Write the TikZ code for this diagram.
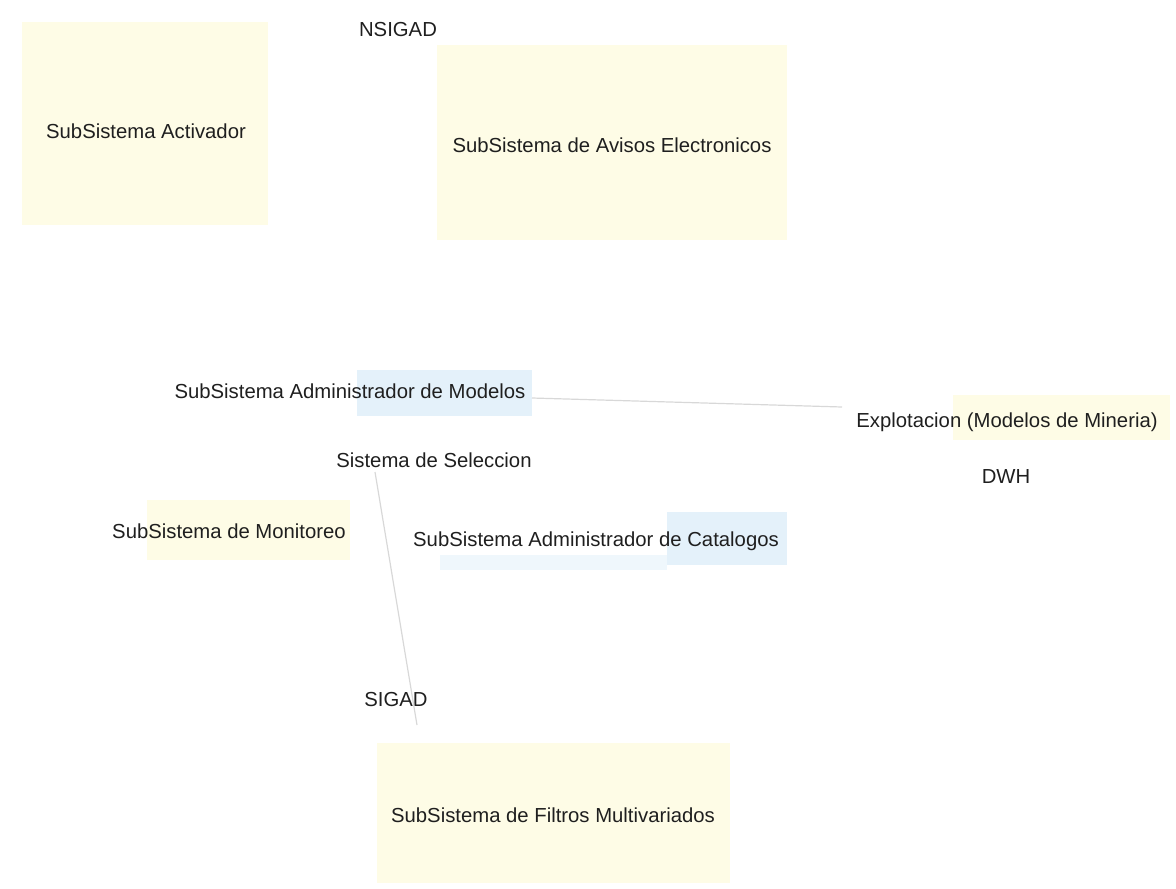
\documentclass[tikz,border=0pt]{standalone}
\usepackage{fontspec}
\setmainfont{Liberation Sans}
\usepackage{tikz}
\usetikzlibrary{positioning}
\usepackage{xcolor}
\definecolor{paleyellow}{HTML}{FEFCE6}
\definecolor{paleblue}{HTML}{E4F1FA}
\definecolor{fadeline}{HTML}{D8D8D8}

\begin{document}
\begin{tikzpicture}[x=1pt,y=-1pt,
	lbl/.style={inner sep=1pt,font=\fontsize{20.3}{23}\selectfont,text=black!88},
	ypatch/.style={fill=paleyellow},
	bpatch/.style={fill=paleblue},
	faint/.style={draw=fadeline,line width=1.2pt}]
		\useasboundingbox (0,0) rectangle (1176,889);
		% pale background patches
		\fill[ypatch] (22,22) rectangle (268,225);
		\fill[ypatch] (437,45) rectangle (787,240);
		\fill[bpatch] (357,370) rectangle (532,416);
		\fill[ypatch] (953,395) rectangle (1170,440);
		\fill[ypatch] (147,500) rectangle (350,560);
		\fill[bpatch] (667,512) rectangle (787,565);
		\fill[paleblue!60] (440,555) rectangle (667,570);
		\fill[ypatch] (377,743) rectangle (730,883);
		
		\draw (398,30)    node[lbl] (nsigad){NSIGAD}
		(146,131)  node[lbl] (activador){SubSistema Activador}
		(612,145)  node[lbl] (avisos){SubSistema de Avisos Electronicos}
		(350,391)  node[lbl] (modelos){SubSistema Administrador de Modelos}
		(434,460)  node[lbl] (seleccion){Sistema de Seleccion}
		(1007,422) node[lbl] (explotacion){Explotacion (Modelos de Mineria)}
		(1006,477) node[lbl] (dwh){DWH}
		(229,531)  node[lbl] (monitoreo){SubSistema de Monitoreo}
		(596,541)  node[lbl] (catalogos){SubSistema Administrador de Catalogos}
		(396,700)  node[lbl] (sigad){SIGAD}
		(553,815)  node[lbl] (filtros){SubSistema de Filtros Multivariados};
		
		\coordinate (modout) at (532,398);
		\coordinate (expin) at (842,407);
		\coordinate (selfoot) at (375,472);
		\coordinate (sigfoot) at (417,725);
		\draw[faint] (modout) -- (expin);
		\draw[faint] (selfoot) -- (sigfoot);
	\end{tikzpicture}
\end{document}
